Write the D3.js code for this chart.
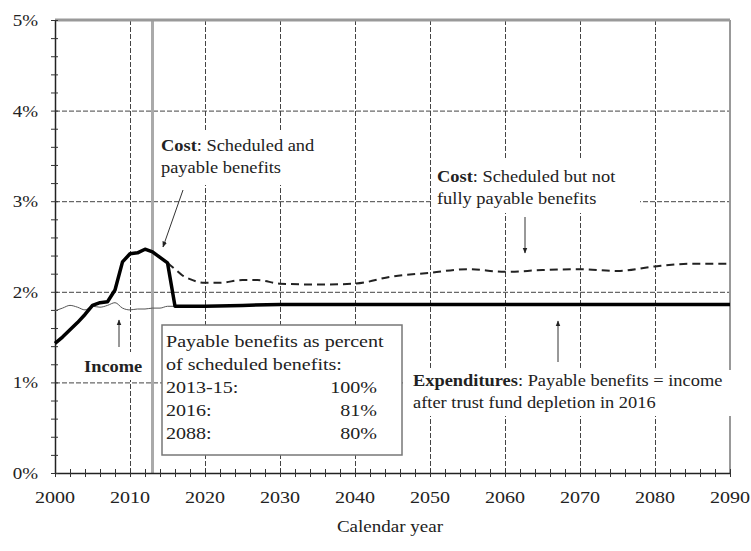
<!DOCTYPE html>
<html>
<head>
<meta charset="utf-8">
<script src="https://cdn.jsdelivr.net/npm/d3@7"></script>
<style>
  body { margin: 0; background: #fff; }
</style>
</head>
<body>
<div id="chart"></div>
<script>
// Cost / income as percent of taxable payroll, 2000-2090
const costYears = [2000, 2001, 2002, 2003, 2004, 2005, 2006, 2007, 2008, 2009, 2010, 2011, 2012, 2013, 2014, 2015, 2016, 2020, 2025, 2030, 2040, 2050, 2060, 2070, 2080, 2090];
const costValues = [1.43, 1.50, 1.58, 1.66, 1.75, 1.85, 1.88, 1.89, 2.02, 2.33, 2.42, 2.43, 2.47, 2.44, 2.38, 2.32, 1.84, 1.84, 1.85, 1.86, 1.86, 1.86, 1.86, 1.86, 1.86, 1.86];

const schedYears = [2015, 2016, 2017, 2018, 2019, 2020, 2022, 2025, 2027, 2030, 2035, 2040, 2045, 2050, 2055, 2060, 2065, 2070, 2075, 2080, 2085, 2090];
const schedValues = [2.32, 2.25, 2.18, 2.14, 2.11, 2.10, 2.10, 2.13, 2.13, 2.09, 2.08, 2.09, 2.17, 2.21, 2.25, 2.22, 2.24, 2.25, 2.23, 2.28, 2.31, 2.31];

const incomeYears = [2000, 2001, 2002, 2003, 2004, 2005, 2006, 2007, 2008, 2009, 2010, 2011, 2012, 2013, 2014, 2015, 2016];
const incomeValues = [1.79, 1.82, 1.85, 1.83, 1.80, 1.84, 1.83, 1.85, 1.88, 1.82, 1.80, 1.81, 1.81, 1.82, 1.82, 1.84, 1.84];

const yTicks = [0, 1, 2, 3, 4, 5];
const xTicks = [2000, 2010, 2020, 2030, 2040, 2050, 2060, 2070, 2080, 2090];
const depletionLineYear = 2013;

const boxLines = ['Payable benefits as percent', 'of scheduled benefits:'];
const boxRows = [['2013-15:', '100%'], ['2016:', '81%'], ['2088:', '80%']];

const W = 751, H = 551;
const serif = "'Liberation Serif', 'Times New Roman', Times, 'DejaVu Serif', serif";
const svg = d3.select('#chart').append('svg')
  .attr('width', W)
  .attr('height', H)
  .attr('font-family', serif)
  .style('font-family', serif);

const x = d3.scaleLinear().domain([2000, 2090]).range([55, 730]);
const y = d3.scaleLinear().domain([0, 5]).range([473, 20]);

// text helper: the scanned original is a little wide, so stretch glyphs horizontally
function label(px, py, size, anchor, parts, sx) {
  const t = svg.append('text')
    .attr('transform', `translate(${px},${py}) scale(${sx || 1.15},1)`)
    .attr('text-anchor', anchor)
    .attr('font-size', size + 'px')
    .attr('fill', '#222');
  parts.forEach(p => {
    const s = t.append('tspan').text(p[0]);
    if (p[1]) s.attr('font-weight', 'bold');
  });
  return t;
}

// Grid lines (dashed)
svg.append('g')
  .attr('class', 'grid')
  .attr('transform', `translate(0,${y(0)})`)
  .call(d3.axisBottom(x).tickValues(xTicks).tickSize(-(y(0) - y(5))).tickFormat(''));
svg.append('g')
  .attr('class', 'grid')
  .attr('transform', `translate(${x(2000)},0)`)
  .call(d3.axisLeft(y).tickValues(yTicks).tickSize(-(x(2090) - x(2000))).tickFormat(''));
svg.selectAll('.grid path').remove();
svg.selectAll('.grid line')
  .attr('stroke', '#444')
  .attr('stroke-width', 1)
  .attr('stroke-dasharray', '5,2');

// 2013 marker line
svg.append('line')
  .attr('x1', x(depletionLineYear)).attr('x2', x(depletionLineYear))
  .attr('y1', y(5)).attr('y2', y(0))
  .attr('stroke', '#aaa')
  .attr('stroke-width', 3);

// Frame: top and right in gray
svg.append('line')
  .attr('x1', x(2000)).attr('x2', x(2090))
  .attr('y1', y(5)).attr('y2', y(5))
  .attr('stroke', '#999').attr('stroke-width', 3);
svg.append('line')
  .attr('x1', x(2090)).attr('x2', x(2090))
  .attr('y1', y(5)).attr('y2', y(0))
  .attr('stroke', '#999').attr('stroke-width', 2);

// white masks behind annotations
const masks = [
  [158, 130, 162, 55],
  [433, 160, 207, 53],
  [405, 370, 330, 46],
  [80, 352, 66, 28]
];
svg.selectAll('.mask')
  .data(masks)
  .enter()
  .append('rect')
  .attr('class', 'mask')
  .attr('x', d => d[0]).attr('y', d => d[1])
  .attr('width', d => d[2]).attr('height', d => d[3])
  .attr('fill', '#fff');

// Axes with minor ticks
const xAxis = svg.append('g')
  .attr('transform', `translate(0,${y(0)})`)
  .call(d3.axisBottom(x).tickValues(d3.range(2000, 2091, 2)).tickSize(4).tickSizeOuter(0).tickFormat(''));
xAxis.selectAll('.tick line').attr('y1', -4).attr('stroke', '#333');
xAxis.select('.domain').attr('stroke', '#222').attr('stroke-width', 1.5);

const yAxis = svg.append('g')
  .attr('transform', `translate(${x(2000)},0)`)
  .call(d3.axisLeft(y).tickValues(d3.range(0, 5.01, 0.2)).tickSize(4).tickSizeOuter(0).tickFormat(''));
yAxis.selectAll('.tick line').attr('x1', 3).attr('stroke', '#333');
yAxis.select('.domain').attr('stroke', '#222').attr('stroke-width', 1.5);

// Tick labels
xTicks.forEach(d => label(x(d), 503, 17, 'middle', [[String(d)]], 1.18));
yTicks.forEach(d => label(38, y(d) + 6, 17, 'end', [[d + '%']], 1.12));
label(390, 532, 17, 'middle', [['Calendar year']], 1.12);

// Series
const line = d3.line()
  .x(d => x(d[0]))
  .y(d => y(d[1]));

svg.append('path')
  .datum(incomeYears.map((yr, i) => [yr, incomeValues[i]]))
  .attr('fill', 'none')
  .attr('stroke', '#555')
  .attr('stroke-width', 1)
  .attr('d', line.curve(d3.curveMonotoneX));

svg.append('path')
  .datum(schedYears.map((yr, i) => [yr, schedValues[i]]))
  .attr('fill', 'none')
  .attr('stroke', '#222')
  .attr('stroke-width', 2)
  .attr('stroke-dasharray', '8,5')
  .attr('d', line.curve(d3.curveMonotoneX));

svg.append('path')
  .datum(costYears.map((yr, i) => [yr, costValues[i]]))
  .attr('fill', 'none')
  .attr('stroke', '#000')
  .attr('stroke-width', 3.5)
  .attr('stroke-linejoin', 'round')
  .attr('d', line.curve(d3.curveLinear));

// Arrow marker
svg.append('defs').append('marker')
  .attr('id', 'arr')
  .attr('viewBox', '0 0 10 10')
  .attr('refX', 9).attr('refY', 5)
  .attr('markerWidth', 6).attr('markerHeight', 6)
  .attr('orient', 'auto')
  .append('path')
  .attr('d', 'M0,1 L10,5 L0,9 z')
  .attr('fill', '#222');

const arrows = [
  [183, 190, 163, 247],
  [525, 217, 525, 253],
  [119, 347, 119, 320],
  [558, 362, 558, 321]
];
svg.selectAll('.arrow')
  .data(arrows)
  .enter()
  .append('line')
  .attr('x1', d => d[0]).attr('y1', d => d[1])
  .attr('x2', d => d[2]).attr('y2', d => d[3])
  .attr('stroke', '#333')
  .attr('stroke-width', 1)
  .attr('marker-end', 'url(#arr)');

// Annotations
label(161, 151, 16, 'start', [['Cost', true], [': Scheduled and']]);
label(161, 173, 16, 'start', [['payable benefits']]);
label(437, 182, 16, 'start', [['Cost', true], [': Scheduled but not']]);
label(437, 204, 16, 'start', [['fully payable benefits']]);
label(413, 386, 16, 'start', [['Expenditures', true], [': Payable benefits = income']]);
label(413, 408, 16, 'start', [['after trust fund depletion in 2016']]);
label(84, 372, 16, 'start', [['Income', true]]);

// Payable benefits box
svg.append('rect')
  .attr('x', 162).attr('y', 325)
  .attr('width', 240).attr('height', 130)
  .attr('fill', '#fff')
  .attr('stroke', '#777')
  .attr('stroke-width', 1.5);

boxLines.forEach((s, i) => label(166, 347 + i * 23, 17, 'start', [[s]], 1.18));
boxRows.forEach((r, i) => {
  label(166, 393 + i * 23, 17, 'start', [[r[0]]], 1.18);
  label(377, 393 + i * 23, 17, 'end', [[r[1]]], 1.18);
});
</script>
</body>
</html>
